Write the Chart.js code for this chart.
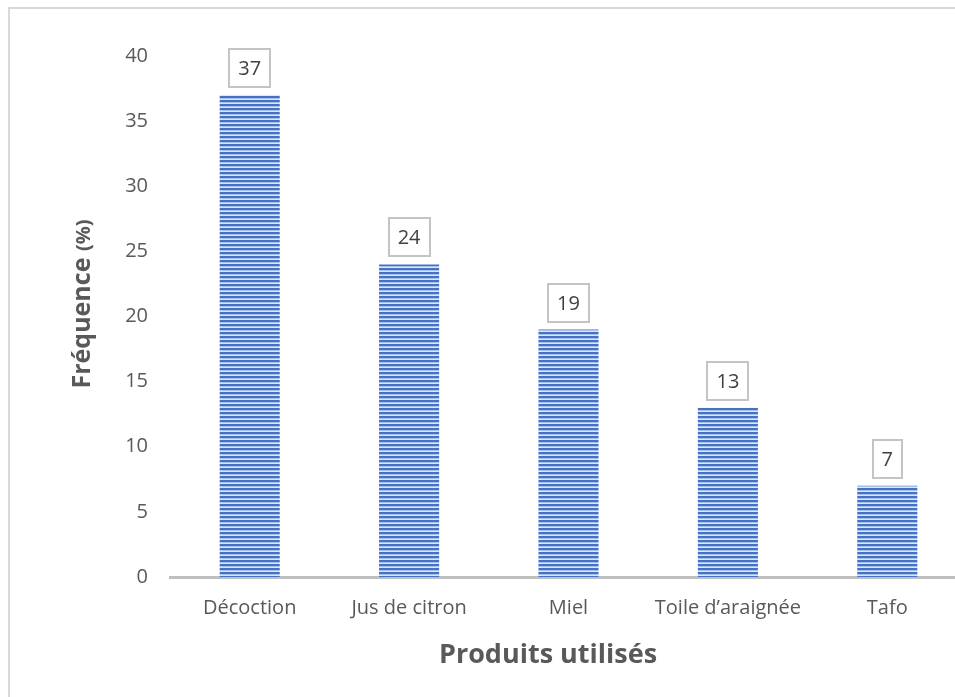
<!DOCTYPE html>
<html>
<head>
<meta charset="utf-8">
<script src="https://cdn.jsdelivr.net/npm/chart.js@4.4.0/dist/chart.umd.min.js"></script>
<style>
  html, body { margin: 0; padding: 0; background: #fff; overflow: hidden; }
  #frame { position: absolute; left: 8px; top: 7px; width: 1100px; height: 800px;
           border: 2px solid #d9d9d9; box-sizing: border-box; }
  #wrap { position: absolute; left: 0; top: 0; width: 975px; height: 697px; }
</style>
</head>
<body>
<div id="frame"></div>
<div id="wrap"><canvas id="chart"></canvas></div>
<script>
const categories = ['Décoction', 'Jus de citron', 'Miel', 'Toile d’araignée', 'Tafo'];
const frequencies = [37, 24, 19, 13, 7];
const yMin = 0, yMax = 40, yStep = 5;

Chart.defaults.font.family = '"Open Sans", "DejaVu Sans", sans-serif';

// horizontal stripe fill for the bars
function stripes() {
  const c = document.createElement('canvas');
  c.width = 4; c.height = 4;
  const g = c.getContext('2d');
  g.fillStyle = '#4472c4'; g.fillRect(0, 0, 4, 2);
  g.fillStyle = '#a9c0ea'; g.fillRect(0, 2, 4, 1);
  g.fillStyle = '#dde6f6'; g.fillRect(0, 3, 4, 1);
  return g.createPattern(c, 'repeat');
}

// boxed value above each bar
const valueBoxes = {
  id: 'valueBoxes',
  afterDatasetsDraw(chart) {
    const ctx = chart.ctx;
    const meta = chart.getDatasetMeta(0);
    ctx.save();
    ctx.font = '20px "Open Sans"';
    ctx.textAlign = 'center';
    ctx.textBaseline = 'middle';
    meta.data.forEach((bar, i) => {
      const txt = String(frequencies[i]);
      const w = Math.round(ctx.measureText(txt).width + 18), h = 38;
      const x = Math.round(bar.x - w / 2), y = Math.round(bar.y - 8 - h);
      ctx.fillStyle = '#fff';
      ctx.fillRect(x, y, w, h);
      ctx.strokeStyle = '#c4c4c4';
      ctx.lineWidth = 2;
      ctx.strokeRect(x, y, w, h);
      ctx.fillStyle = '#404040';
      ctx.fillText(txt, bar.x, y + h / 2 + 1);
    });
    ctx.restore();
  }
};

// axis titles ("(%)" is set smaller than the word)
const axisTitles = {
  id: 'axisTitles',
  afterDraw(chart) {
    const ctx = chart.ctx;
    ctx.save();
    ctx.fillStyle = '#595959';
    ctx.textBaseline = 'alphabetic';

    const big = 'bold 25px "Open Sans"', small = 'bold 20px "Open Sans"';
    ctx.font = big;
    const w1 = ctx.measureText('Fréquence ').width;
    ctx.font = small;
    const w2 = ctx.measureText('(%)').width;
    ctx.translate(90, 304);
    ctx.rotate(-Math.PI / 2);
    ctx.textAlign = 'left';
    ctx.font = big;
    ctx.fillText('Fréquence ', -(w1 + w2) / 2, 0);
    ctx.font = small;
    ctx.fillText('(%)', -(w1 + w2) / 2 + w1, 0);
    ctx.setTransform(1, 0, 0, 1, 0, 0);

    ctx.font = 'bold 27px "Open Sans"';
    ctx.textAlign = 'center';
    ctx.fillText('Produits utilisés', 548, 663);
    ctx.restore();
  }
};

new Chart(document.getElementById('chart'), {
  type: 'bar',
  data: {
    labels: categories,
    datasets: [{
      data: frequencies,
      backgroundColor: stripes(),
      borderWidth: 0,
      categoryPercentage: 1,
      barPercentage: 0.377
    }]
  },
  options: {
    responsive: true,
    maintainAspectRatio: false,
    animation: false,
    layout: { padding: { top: 56, right: 8, left: 0, bottom: 0 } },
    plugins: { legend: { display: false }, tooltip: { enabled: false } },
    scales: {
      x: {
        afterFit(s) { s.height = 120; },
        grid: { display: false, drawTicks: false },
        border: { display: true, color: '#bfbfbf', width: 3 },
        ticks: { color: '#595959', font: { size: 20 }, padding: 19, maxRotation: 0 }
      },
      y: {
        min: yMin,
        max: yMax,
        afterFit(s) { s.width = 170; },
        grid: { display: false, drawTicks: false },
        border: { display: false },
        ticks: { stepSize: yStep, color: '#595959', font: { size: 20 }, padding: 22 }
      }
    }
  },
  plugins: [valueBoxes, axisTitles]
});
</script>
</body>
</html>
